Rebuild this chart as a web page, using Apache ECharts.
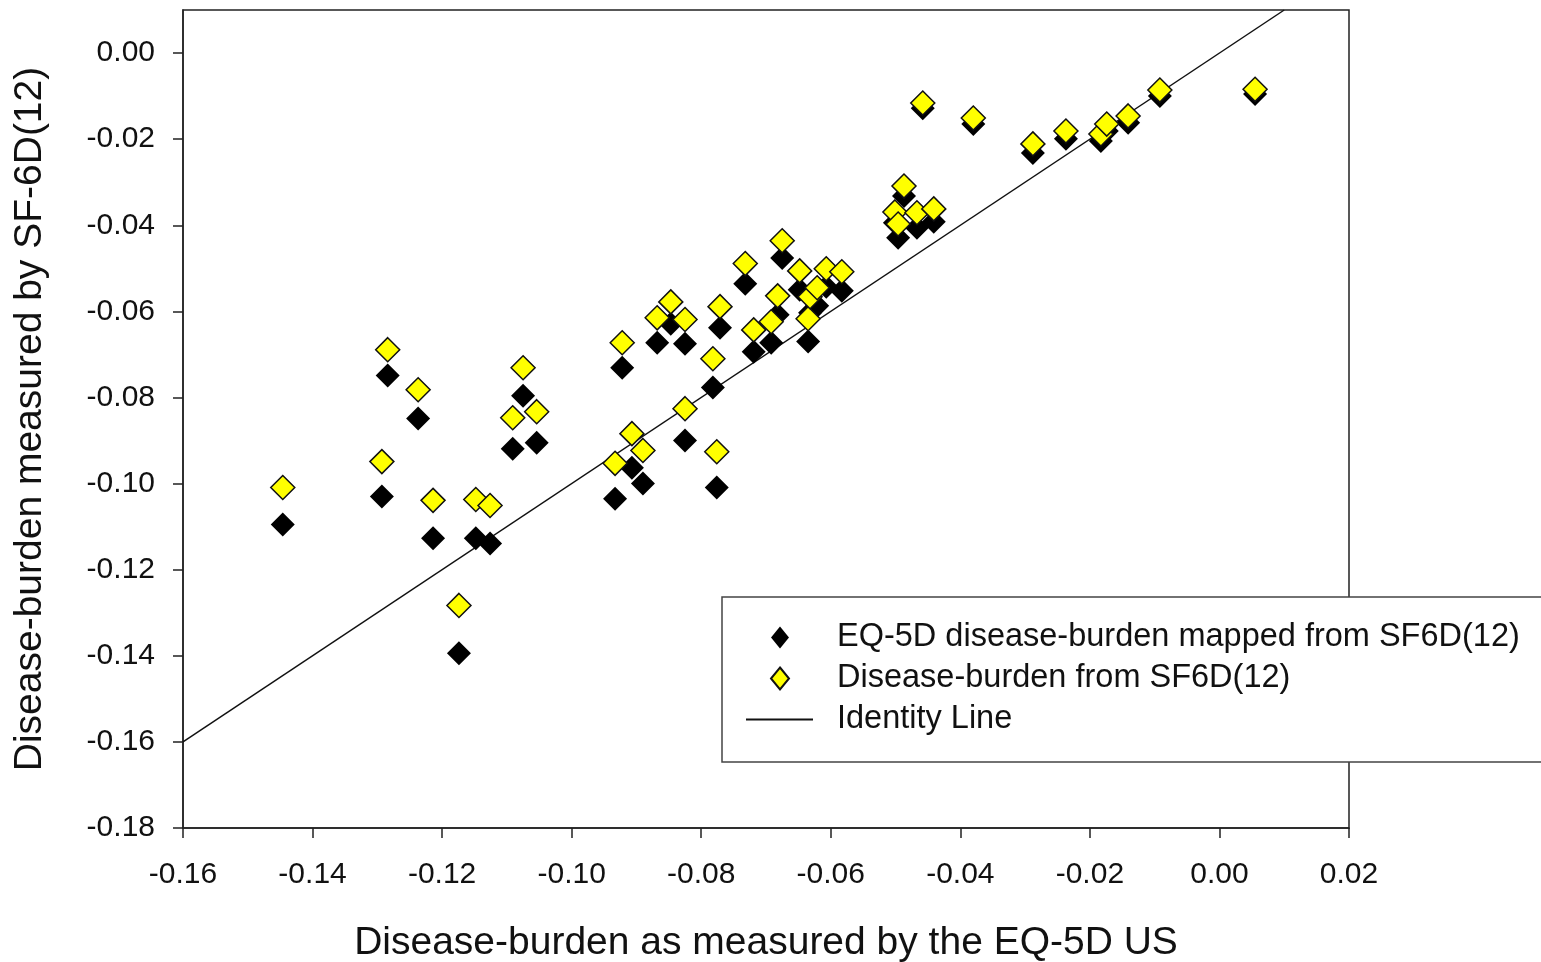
<!DOCTYPE html>
<html>
<head>
<meta charset="utf-8">
<script src="https://cdn.jsdelivr.net/npm/echarts@6/dist/echarts.min.js"></script>
<style>
  html, body { margin: 0; padding: 0; background: #fff; }
  #chart { width: 1541px; height: 962px; }
</style>
</head>
<body>
<div id="chart"></div>
<script>
  // disease-burden as measured by EQ-5D US (x)
  const eqBurden = [
    -0.1446, -0.1293, -0.1284, -0.1237, -0.1214, -0.1174, -0.1148, -0.1126, -0.1091, -0.1075,
    -0.1054, -0.0933, -0.0922, -0.0907, -0.0890, -0.0868, -0.0847, -0.0825, -0.0825, -0.0782,
    -0.0776, -0.0771, -0.0732, -0.0719, -0.0692, -0.0682, -0.0675, -0.0648, -0.0635, -0.0632,
    -0.0621, -0.0607, -0.0583, -0.0501, -0.0496, -0.0487, -0.0467, -0.0458, -0.0441, -0.0380,
    -0.0288, -0.0237, -0.0183, -0.0174, -0.0141, -0.0092, 0.0055
  ];
  // disease-burden from SF6D(12) (yellow)
  const sfBurden = [
    -0.1009, -0.0949, -0.0689, -0.0782, -0.1039, -0.1283, -0.1037, -0.1051, -0.0847, -0.0731,
    -0.0833, -0.0953, -0.0673, -0.0884, -0.0923, -0.0615, -0.0578, -0.0619, -0.0826, -0.0710,
    -0.0926, -0.0589, -0.0489, -0.0643, -0.0624, -0.0564, -0.0436, -0.0506, -0.0617, -0.0566,
    -0.0545, -0.0501, -0.0508, -0.0369, -0.0397, -0.0309, -0.0371, -0.0116, -0.0362, -0.0151,
    -0.0211, -0.0181, -0.0188, -0.0165, -0.0146, -0.0086, -0.0084
  ];
  // EQ-5D disease-burden mapped from SF6D(12) (black)
  const mappedBurden = [
    -0.1095, -0.1030, -0.0749, -0.0849, -0.1127, -0.1394, -0.1127, -0.1139, -0.0919, -0.0796,
    -0.0905, -0.1035, -0.0731, -0.0963, -0.1000, -0.0673, -0.0629, -0.0675, -0.0900, -0.0777,
    -0.1009, -0.0638, -0.0536, -0.0694, -0.0673, -0.0608, -0.0476, -0.0550, -0.0670, -0.0603,
    -0.0587, -0.0543, -0.0552, -0.0394, -0.0429, -0.0332, -0.0406, -0.0128, -0.0392, -0.0165,
    -0.0232, -0.0199, -0.0204, -0.0181, -0.0162, -0.0100, -0.0095
  ];
  const identityEnds = [-0.16, 0.01];
  const yTicks = [-0.18, -0.16, -0.14, -0.12, -0.10, -0.08, -0.06, -0.04, -0.02, 0.00];

  const names = ['EQ-5D disease-burden mapped from SF6D(12)', 'Disease-burden from SF6D(12)', 'Identity Line'];
  const font = "'Liberation Sans', Arial, sans-serif";
  const fmt = v => (Math.abs(v) < 1e-9 ? '0.00' : v.toFixed(2));
  // diamond icon centred in the 67x22 legend slot (the moveTo points fix the box)
  const legendDiamond = 'path://M0,0M67,22M34,0L43,11L34,22L25,11Z';

  const myChart = echarts.init(document.getElementById('chart'));
  const option = {
    animation: false,
    textStyle: { fontFamily: font },
    grid: {
      left: 183, right: 192, top: 10, bottom: 134,
      outerBoundsMode: 'none',
      containLabel: false,
      show: true, borderColor: '#222', borderWidth: 1.5
    },
    legend: {
      orient: 'vertical',
      left: 722, top: 597,
      padding: [24, 28, 26, 23],
      itemWidth: 67, itemHeight: 22, itemGap: 8,
      backgroundColor: '#fff',
      borderColor: '#444', borderWidth: 1.5, borderRadius: 0,
      data: [
        { name: names[0], icon: legendDiamond },
        { name: names[1], icon: legendDiamond },
        { name: names[2], itemStyle: { color: 'rgba(0,0,0,0)', borderColor: 'rgba(0,0,0,0)', borderWidth: 0 } }
      ],
      textStyle: { fontSize: 32.5, color: '#111', lineHeight: 32, padding: [0, 0, 0, 19] },
      z: 10
    },
    xAxis: {
      type: 'value',
      min: -0.16, max: 0.02, interval: 0.02,
      name: 'Disease-burden as measured by the EQ-5D US',
      nameLocation: 'middle', nameGap: 96,
      nameTextStyle: { fontSize: 39, color: '#111' },
      axisLine: { onZero: false, lineStyle: { color: '#222', width: 1.5 } },
      axisTick: { length: 10, lineStyle: { color: '#222', width: 1.5 } },
      axisLabel: { fontSize: 30, color: '#111', margin: 32, formatter: fmt },
      splitLine: { show: false }
    },
    yAxis: {
      type: 'value',
      min: -0.18, max: 0.01,
      name: 'Disease-burden measured by SF-6D(12)',
      nameLocation: 'middle', nameGap: 133,
      nameTextStyle: { fontSize: 39, color: '#111' },
      axisLine: { onZero: false, lineStyle: { color: '#222', width: 1.5 } },
      axisTick: { length: 10, customValues: yTicks, lineStyle: { color: '#222', width: 1.5 } },
      axisLabel: { fontSize: 30, color: '#111', margin: 28, customValues: yTicks, formatter: fmt },
      splitLine: { show: false }
    },
    series: [
      {
        name: names[2],
        type: 'line',
        symbol: 'none',
        z: 1,
        lineStyle: { color: '#111', width: 1.5 },
        itemStyle: { color: '#111' },
        data: identityEnds.map(v => [v, v])
      },
      {
        name: names[0],
        type: 'scatter',
        symbol: 'diamond',
        symbolSize: 24,
        z: 2,
        itemStyle: { color: '#000', opacity: 1 },
        data: eqBurden.map((x, i) => [x, mappedBurden[i]])
      },
      {
        name: names[1],
        type: 'scatter',
        symbol: 'diamond',
        symbolSize: 24,
        z: 3,
        itemStyle: { color: '#ffff00', borderColor: '#111', borderWidth: 1.5, opacity: 1 },
        data: eqBurden.map((x, i) => [x, sfBurden[i]])
      }
    ]
  };
  myChart.setOption(option);
</script>
</body>
</html>
